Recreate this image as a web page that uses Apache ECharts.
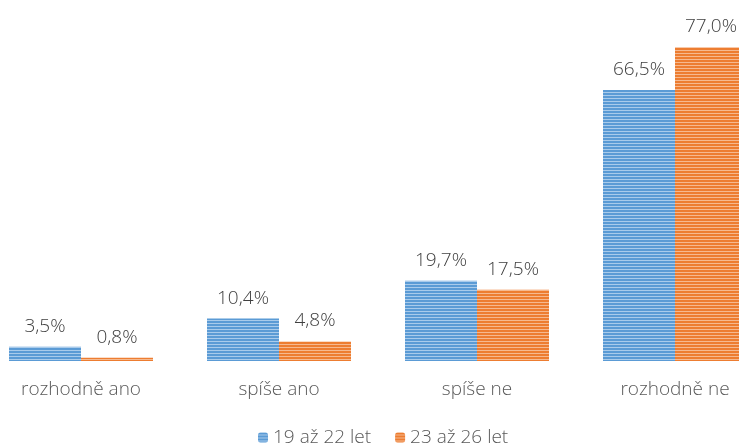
<!DOCTYPE html>
<html>
<head>
<meta charset="utf-8">
<script src="https://cdn.jsdelivr.net/npm/echarts@6/dist/echarts.min.js"></script>
<style>
  html, body { margin: 0; padding: 0; background: #fff; overflow: hidden; }
  #wrap { position: relative; width: 739px; height: 447px; overflow: hidden; }
  /* graf je sirsi nez okno, krajni sloupce jsou oriznute */
  #main { position: absolute; left: -18px; top: 0; width: 792px; height: 447px; }
</style>
</head>
<body>
<div id="wrap"><div id="main"></div></div>
<script>
var categories = ['rozhodně ano', 'spíše ano', 'spíše ne', 'rozhodně ne'];
var seriesNames = ['19 až 22 let', '23 až 26 let'];
var younger = [3.5, 10.4, 19.7, 66.5];
var older = [0.8, 4.8, 17.5, 77.0];

// pruhovana vypln sloupcu
function stripes(base, light) {
  var c = document.createElement('canvas');
  c.width = 4;
  c.height = 3;
  var ctx = c.getContext('2d');
  ctx.fillStyle = base;
  ctx.fillRect(0, 0, 4, 3);
  ctx.fillStyle = light;
  ctx.fillRect(0, 2, 4, 1);
  return { image: c, repeat: 'repeat' };
}

var chart = echarts.init(document.getElementById('main'));

function fmt(p) {
  return p.value.toFixed(1).replace('.', ',') + '%';
}

var labelStyle = {
  show: true,
  position: 'top',
  distance: 11,
  color: '#404040',
  fontSize: 19,
  fontWeight: 300,
  fontFamily: 'Open Sans',
  formatter: fmt
};

chart.setOption({
  animation: false,
  grid: { left: 0, right: 0, top: 35, bottom: 86 },
  legend: {
    left: 276,
    bottom: 0,
    padding: 0,
    itemWidth: 10,
    itemHeight: 10,
    itemGap: 24,
    textStyle: { color: '#595959', fontSize: 19, fontWeight: 300, fontFamily: 'Open Sans' },
    data: seriesNames
  },
  xAxis: {
    type: 'category',
    data: categories,
    axisLine: { show: false },
    axisTick: { show: false },
    axisLabel: { color: '#595959', fontSize: 19, fontWeight: 300, fontFamily: 'Open Sans', margin: 19 }
  },
  yAxis: {
    type: 'value',
    min: 0,
    max: 80,
    show: false,
    splitLine: { show: false }
  },
  series: [
    {
      name: seriesNames[0],
      type: 'bar',
      data: younger,
      barWidth: 72,
      barGap: '0%',
      itemStyle: { color: stripes('#5B9BD5', '#A9CBEB') },
      label: labelStyle
    },
    {
      name: seriesNames[1],
      type: 'bar',
      data: older,
      barWidth: 72,
      barGap: '0%',
      itemStyle: { color: stripes('#ED7D31', '#F6B98F') },
      label: labelStyle
    }
  ]
});
</script>
</body>
</html>
